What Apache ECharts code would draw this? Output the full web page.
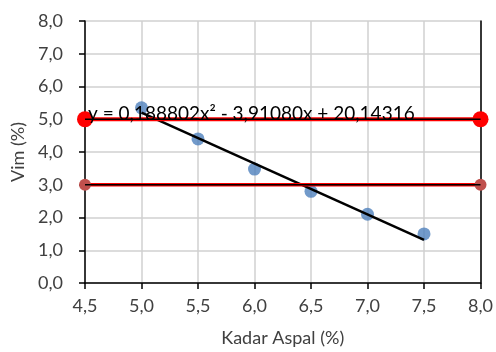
<!DOCTYPE html>
<html>
<head>
<meta charset="utf-8">
<script src="https://cdn.jsdelivr.net/npm/echarts@6/dist/echarts.min.js"></script>
<style>
  html, body { margin: 0; padding: 0; background: #fff; }
  #chart { width: 496px; height: 352px; }
</style>
</head>
<body>
<div id="chart"></div>
<script>
// data
const kadarAspal = [5.0, 5.5, 6.0, 6.5, 7.0, 7.5];
const vim = [5.35, 4.4, 3.48, 2.8, 2.1, 1.5];
const trendX = [5.0, 7.5];
const trendY = [5.2, 1.32];
const limitX = [4.5, 8.0];
const upperLimit = [5, 5];
const lowerLimit = [3, 3];
const equation = 'y = 0,188802x² - 3,91080x + 20,14316';

const fontFamily = 'Lato, "Open Sans", sans-serif';
const comma = v => v.toFixed(1).replace('.', ',');
const pairs = (xs, ys) => xs.map((x, i) => [x, ys[i]]);

const myChart = echarts.init(document.getElementById('chart'));

myChart.setOption({
  animation: false,
  textStyle: { fontFamily },
  grid: { left: 85, right: 12, top: 21, bottom: 67 },
  xAxis: {
    type: 'value',
    min: 4.5,
    max: 8.0,
    interval: 0.5,
    name: 'Kadar Aspal (%)',
    nameLocation: 'middle',
    nameGap: 46,
    nameTextStyle: { fontSize: 18, color: '#404040', fontFamily },
    axisLine: { onZero: false, lineStyle: { color: '#000', width: 1.5 } },
    axisTick: { show: true, length: 6, lineStyle: { color: '#000', width: 1.5 } },
    axisLabel: { formatter: comma, fontSize: 18, color: '#404040', margin: 14 },
    splitLine: { show: true, lineStyle: { color: '#d0d0d0', width: 1.5 } }
  },
  yAxis: [
    {
      type: 'value',
      min: 0,
      max: 8,
      interval: 1,
      name: 'Vim (%)',
      nameLocation: 'middle',
      nameGap: 55,
      nameTextStyle: { fontSize: 18, color: '#404040', fontFamily },
      axisLine: { show: true, onZero: false, lineStyle: { color: '#000', width: 1.5 } },
      axisTick: { show: true, length: 6, lineStyle: { color: '#000', width: 1.5 } },
      axisLabel: { formatter: comma, fontSize: 18, color: '#404040', margin: 22 },
      splitLine: { show: true, lineStyle: { color: '#d0d0d0', width: 1.5 } }
    },
    {
      type: 'value',
      min: 0,
      max: 8,
      interval: 1,
      position: 'right',
      axisLine: { show: true, onZero: false, lineStyle: { color: '#000', width: 1.5 } },
      axisTick: { show: false },
      axisLabel: { show: false },
      splitLine: { show: false }
    }
  ],
  graphic: [
    {
      type: 'text',
      left: 88,
      top: 104,
      z: 100,
      style: { text: equation, fontSize: 19, fill: '#000', fontFamily }
    }
  ],
  series: [
    {
      name: 'Vim',
      type: 'scatter',
      data: pairs(kadarAspal, vim),
      symbolSize: 13,
      itemStyle: { color: '#4f81bd' },
      z: 2
    },
    {
      name: 'Trend',
      type: 'line',
      data: pairs(trendX, trendY),
      showSymbol: false,
      lineStyle: { color: '#000', width: 2.5 },
      z: 3
    },
    {
      name: 'Batas 5',
      type: 'line',
      data: pairs(limitX, upperLimit),
      clip: false,
      symbol: 'circle',
      symbolSize: 16,
      itemStyle: { color: '#ff0000' },
      lineStyle: { color: '#ff0000', width: 4 },
      z: 4
    },
    {
      name: 'Batas 5 garis',
      type: 'line',
      data: pairs(limitX, upperLimit),
      clip: false,
      showSymbol: false,
      lineStyle: { color: '#000', width: 1.5 },
      z: 5
    },
    {
      name: 'Batas 3',
      type: 'line',
      data: pairs(limitX, lowerLimit),
      clip: false,
      symbol: 'circle',
      symbolSize: 12,
      itemStyle: { color: '#c0504d' },
      lineStyle: { color: '#ff0000', width: 3.5 },
      z: 4
    },
    {
      name: 'Batas 3 garis',
      type: 'line',
      data: pairs(limitX, lowerLimit),
      clip: false,
      showSymbol: false,
      lineStyle: { color: '#000', width: 1.5 },
      z: 5
    }
  ]
});
</script>
</body>
</html>
